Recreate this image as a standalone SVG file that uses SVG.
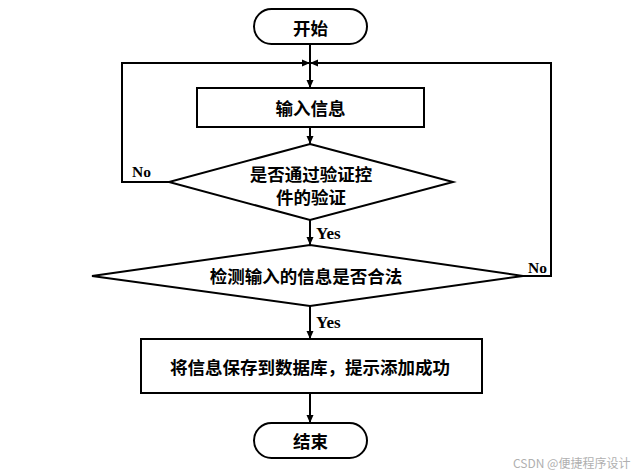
<svg xmlns="http://www.w3.org/2000/svg" width="634" height="475" viewBox="0 0 634 475">
<style>
.s{fill:#fff;stroke:#000;stroke-width:2}
.t{font-family:"Noto Sans CJK SC","Noto Sans",sans-serif;font-weight:bold;font-size:17.5px;fill:#000;text-anchor:middle;dominant-baseline:central}
.l{font-family:"Liberation Serif",serif;font-weight:bold;fill:#000}
.c{fill:none;stroke:#000;stroke-width:2}
.w{font-family:"Noto Sans CJK SC","Noto Sans",sans-serif;font-size:12px;fill:#b0b0b0}
</style>
<defs>
<marker id="a" viewBox="0 0 8 8" refX="8" refY="4" markerWidth="8" markerHeight="8" markerUnits="userSpaceOnUse" orient="auto">
<path d="M0,0.5 L8,4 L0,7.5 Z" fill="#000"/>
</marker>
</defs>
<g id="connectors">
<path class="c" d="M310,44 V88" marker-end="url(#a)"/>
<path class="c" d="M310,127 V144" marker-end="url(#a)"/>
<path class="c" d="M310,220 V245" marker-end="url(#a)"/>
<path class="c" d="M310,306 V339" marker-end="url(#a)"/>
<path class="c" d="M310,393 V423" marker-end="url(#a)"/>
<path class="c" d="M169,182 H122 V63 H310" marker-end="url(#a)"/>
<path class="c" d="M523,276 H551 V63 H310" marker-end="url(#a)"/>
<text class="l" x="316" y="239" font-size="17">Yes</text>
<text class="l" x="316" y="328" font-size="17">Yes</text>
<text class="l" x="132" y="177" font-size="15.5">No</text>
<text class="l" x="528" y="273" font-size="15.5">No</text>
</g>
<g id="start">
<rect class="s" x="254" y="9" width="113" height="35" rx="17.5"/>
<text class="t" x="310.5" y="27">开始</text>
</g>
<g id="input">
<rect class="s" x="197" y="88" width="227" height="39"/>
<text class="t" x="310.5" y="107">输入信息</text>
</g>
<g id="check1">
<polygon class="s" points="310,144 453,182 310,220 169,182"/>
<text class="t" x="311" y="173" font-size="17px">是否通过验证控</text>
<text class="t" x="311" y="196" font-size="17px">件的验证</text>
</g>
<g id="check2">
<polygon class="s" points="310,245 523,276 310,306 92,276"/>
<text class="t" x="306" y="275">检测输入的信息是否合法</text>
</g>
<g id="save">
<rect class="s" x="141" y="339" width="341" height="54"/>
<text class="t" x="310" y="366">将信息保存到数据库，提示添加成功</text>
</g>
<g id="end">
<rect class="s" x="254" y="423" width="113" height="35" rx="17.5"/>
<text class="t" x="310.5" y="440">结束</text>
</g>
<text class="w" x="513" y="468">CSDN @便捷程序设计</text>
</svg>
